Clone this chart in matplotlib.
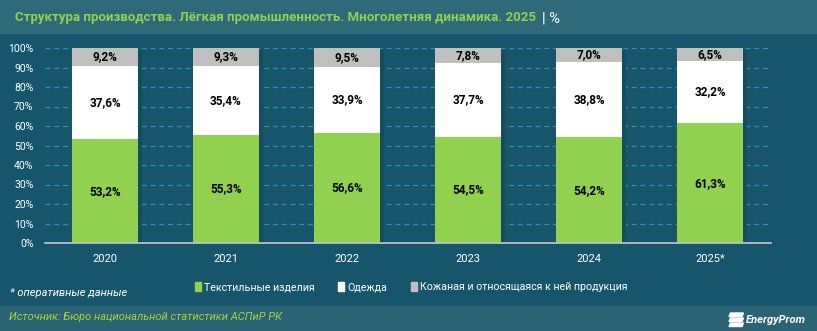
import matplotlib
matplotlib.use('Agg')
import matplotlib.pyplot as plt
from matplotlib.patches import Rectangle, Polygon

years = ['2020', '2021', '2022', '2023', '2024', '2025*']
textile = [53.2, 55.3, 56.6, 54.5, 54.2, 61.3]
clothing = [37.6, 35.4, 33.9, 37.7, 38.8, 32.2]
leather = [9.2, 9.3, 9.5, 7.8, 7.0, 6.5]
series_names = ['Текстильные изделия', 'Одежда', 'Кожаная и относящаяся к ней продукция']
yticks = list(range(0, 101, 10))

bg = '#17566a'
colors = ['#92d050', '#ffffff', '#bfbfbf']
plt.rcParams['font.family'] = ['Roboto', 'DejaVu Sans']

W, H = 817, 331
fig = plt.figure(figsize=(W / 100, H / 100), dpi=100)
fig.patch.set_facecolor(bg)


def fx(px):
    return px / W


def fy(py):
    return 1 - py / H


# header and footer bars
fig.patches.append(Rectangle((0, fy(33)), 1, 33 / H, transform=fig.transFigure,
                             color='#2e6a78', zorder=0))
fig.patches.append(Rectangle((0, 0), 1, 25 / H, transform=fig.transFigure,
                             color='#2a6474', zorder=0))

ax = fig.add_axes([fx(44.5), fy(243), 726 / W, 195 / H])
ax.set_facecolor(bg)

x = range(len(years))
w = 0.55
# subtle shadow
ax.bar([i + 0.03 for i in x], [100] * len(years), w, bottom=-1, color='#144d5e', zorder=1)
bottom = [0] * len(years)
for vals, c in zip([textile, clothing, leather], colors):
    ax.bar(x, vals, w, bottom=bottom, color=c, zorder=2)
    for i, v in enumerate(vals):
        ax.text(i, bottom[i] + v / 2, f'{v:.1f}%'.replace('.', ','), ha='center', va='center',
                fontsize=8.5, fontweight='bold', color='black', zorder=3)
    bottom = [b + v for b, v in zip(bottom, vals)]

ax.set_xlim(-0.5, len(years) - 0.5)
ax.set_ylim(0, 100)
ax.set_yticks(yticks)
ax.set_yticklabels([f'{t}%' for t in yticks])
ax.set_xticks(list(x))
ax.set_xticklabels(years)
ax.tick_params(axis='both', length=0, colors='white', labelsize=7.5)
ax.tick_params(axis='x', pad=8, labelsize=8)
ax.tick_params(axis='y', pad=8)
ax.grid(axis='y', color='#2a8fb0', linestyle=(0, (4, 3)), linewidth=0.9, zorder=0)
ax.set_axisbelow(True)
for s in ['top', 'right', 'left']:
    ax.spines[s].set_visible(False)
ax.spines['bottom'].set_color('#c8c8c8')
ax.spines['bottom'].set_linewidth(1.2)

# legend
handles = [Rectangle((0, 0), 1, 1, color=c) for c in colors]
fig.legend(handles, series_names, loc='center', bbox_to_anchor=(fx(411), fy(287)),
           ncol=3, frameon=False, fontsize=7.7, labelcolor='white', handlelength=0.6,
           handleheight=1.0, handletextpad=0.25, columnspacing=2.2)

# titles
t1 = fig.text(fx(15), fy(18), 'Структура производства. Лёгкая промышленность. Многолетняя динамика. 2025',
              color='#92d050', fontsize=9.5, fontweight='bold', va='center', ha='left')
fig.canvas.draw()
bb = t1.get_window_extent()
fig.text(fx(bb.x1 + 6), fy(18), '| %', color='white', fontsize=10.5,
         va='center', ha='left')

fig.text(fx(10), fy(293), '* оперативные данные', color='white', fontsize=8,
         style='italic', va='center')
fig.text(fx(9), fy(317), 'Источник: Бюро национальной статистики АСПиР РК',
         color='#a8d13a', fontsize=8, style='italic', va='center')
fig.text(fx(746), fy(320), 'EnergyProm', color='white', fontsize=8,
         style='italic', fontweight='bold', va='center', ha='left')
# logo stripes
for k in range(3):
    y0 = 313 + k * 5
    fig.patches.append(Polygon([(fx(729), fy(y0 + 3.5)), (fx(742), fy(y0 + 3.5)),
                                (fx(743.5), fy(y0)), (fx(730.5), fy(y0))],
                               closed=True, transform=fig.transFigure, color='white'))

fig.savefig('out.png', dpi=100, facecolor=fig.get_facecolor())
